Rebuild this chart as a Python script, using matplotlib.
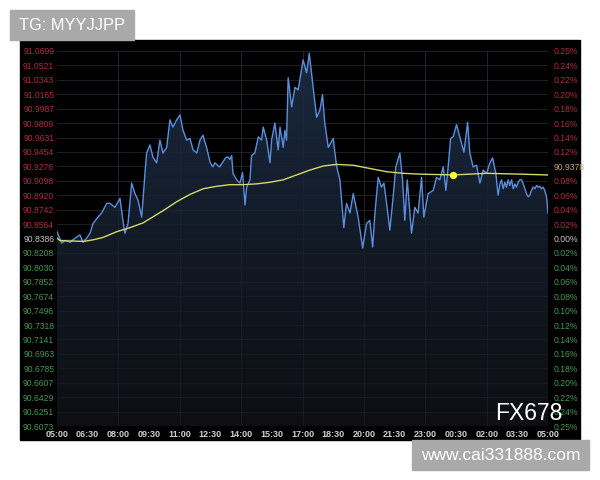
import numpy as np
import matplotlib.pyplot as plt
from matplotlib.patches import Rectangle
from matplotlib.colors import LinearSegmentedColormap

plt.rcParams['font.family'] = ['Liberation Sans', 'DejaVu Sans']

# 가격 (05:00 부터 경과 시간, 시간 단위)
hours = [0.00, 0.23, 0.39, 0.64, 0.88, 1.12, 1.27, 1.45, 1.61, 1.76, 2.00, 2.18, 2.43, 2.59,
         2.83, 3.08, 3.22, 3.32, 3.47, 3.65, 3.81, 3.96, 4.14, 4.30, 4.38, 4.54, 4.69, 4.87,
         5.03, 5.18, 5.36, 5.52, 5.67, 5.85, 6.01, 6.16, 6.34, 6.50, 6.65, 6.83, 6.99, 7.13,
         7.31, 7.48, 7.56, 7.62, 7.72, 7.80, 7.88, 7.96, 8.05, 8.11, 8.21, 8.29, 8.37, 8.45,
         8.54, 8.60, 8.78, 8.94, 9.07, 9.19, 9.27,
         9.43, 9.51, 9.67, 9.84, 10.00, 10.08, 10.25, 10.41, 10.49, 10.65, 10.81, 10.90, 11.06,
         11.14, 11.22, 11.30, 11.47, 11.63, 11.79, 12.03, 12.20, 12.33, 12.52, 12.69, 12.85,
         12.98, 13.09, 13.26, 13.50, 13.67, 13.83, 14.02, 14.15, 14.32, 14.48, 14.72, 14.94,
         15.13, 15.29, 15.43, 15.54, 15.70, 15.86, 15.98, 16.11, 16.27, 16.43, 16.56, 16.76,
         16.89, 17.00, 17.12, 17.33, 17.49, 17.65, 17.82, 17.93, 18.14, 18.39, 18.55, 18.71,
         18.88, 19.01, 19.12, 19.24, 19.36, 19.53, 19.69, 19.89, 20.07, 20.18, 20.34, 20.51,
         20.67, 20.83, 21.00, 21.16, 21.29, 21.45, 21.56, 21.65, 21.73, 21.81, 21.89, 21.97,
         22.05, 22.13, 22.22, 22.30, 22.38, 22.46, 22.54, 22.62, 22.71, 22.79, 22.87, 22.95,
         23.03, 23.11, 23.19, 23.27, 23.36, 23.44, 23.52, 23.60, 23.68, 23.76, 23.84, 23.93,
         24.00]
price = [90.847, 90.833, 90.836, 90.834, 90.839, 90.843, 90.834, 90.839, 90.845, 90.857, 90.865,
         90.870, 90.882, 90.882, 90.877, 90.888, 90.861, 90.845, 90.857, 90.907, 90.894, 90.886,
         90.865, 90.919, 90.944, 90.954, 90.939, 90.932, 90.960, 90.944, 90.951, 90.985, 90.976,
         90.985, 90.991, 90.972, 90.960, 90.962, 90.948, 90.944, 90.960, 90.966, 90.951,
         90.933, 90.929, 90.927, 90.932, 90.930, 90.928, 90.927, 90.931, 90.933, 90.937, 90.939,
         90.939, 90.936, 90.941, 90.919, 90.911, 90.907, 90.920, 90.880,
         90.902, 90.911, 90.941, 90.944, 90.964, 90.960, 90.976, 90.960, 90.932, 90.960, 90.981,
         90.948, 90.976, 90.951, 90.972, 90.960, 91.037, 91.001, 91.025, 91.022, 91.059, 91.043,
         91.067, 91.025, 90.988, 90.997, 91.016, 90.981, 90.951, 90.962, 90.927, 90.911, 90.852,
         90.882, 90.870, 90.894, 90.865, 90.827, 90.857, 90.861, 90.828, 90.870, 90.914, 90.902,
         90.907, 90.882, 90.849, 90.890, 90.927, 90.944, 90.911, 90.861, 90.911, 90.845, 90.877,
         90.870, 90.914, 90.865, 90.894, 90.898, 90.914, 90.911, 90.927, 90.898, 90.927, 90.962,
         90.964, 90.979, 90.964, 90.945, 90.982, 90.944, 90.927, 90.929, 90.907, 90.923, 90.919,
         90.932, 90.938, 90.919, 90.892, 90.906, 90.911, 90.900, 90.908, 90.902,
         90.911, 90.904, 90.911, 90.900, 90.906, 90.902, 90.908, 90.911, 90.911, 90.906, 90.900,
         90.894, 90.890, 90.892, 90.898, 90.902, 90.900, 90.904, 90.902, 90.903, 90.900, 90.902,
         90.898, 90.890, 90.870]

# 평균선
ma_hours = [0.00, 0.15, 1.29, 1.77, 2.26, 2.92, 3.57, 4.22, 4.54, 5.19, 5.85, 6.50, 7.15, 7.80,
            8.45, 9.10, 9.76, 10.41, 11.06, 11.71, 12.36, 13.01, 13.67, 14.48, 15.29, 16.11,
            16.92, 17.74, 19.36, 21.00, 22.62, 24.00]
ma_price = [90.839, 90.836, 90.835, 90.837, 90.840, 90.847, 90.852, 90.858, 90.863, 90.873,
            90.884, 90.893, 90.900, 90.903, 90.905, 90.905, 90.906, 90.908, 90.911, 90.917,
            90.923, 90.928, 90.930, 90.929, 90.925, 90.921, 90.919, 90.918, 90.917, 90.919,
            90.918, 90.917]
dot_hour = 19.36
dot_price = 90.917

# 축 라벨
y_levels = [91.0699, 91.0521, 91.0343, 91.0165, 90.9987, 90.9809, 90.9631, 90.9454, 90.9276,
            90.9098, 90.8920, 90.8742, 90.8564, 90.8386, 90.8208, 90.8030, 90.7852, 90.7674,
            90.7496, 90.7318, 90.7141, 90.6963, 90.6785, 90.6607, 90.6429, 90.6251, 90.6073]
pct_labels = ['0.25%', '0.24%', '0.22%', '0.20%', '0.18%', '0.16%', '0.14%', '0.12%', '90.9378',
              '0.08%', '0.06%', '0.04%', '0.02%', '0.00%', '0.02%', '0.04%', '0.06%', '0.08%',
              '0.10%', '0.12%', '0.14%', '0.16%', '0.18%', '0.20%', '0.22%', '0.24%', '0.25%']
x_labels = ['05:00', '06:30', '08:00', '09:30', '11:00', '12:30', '14:00', '15:30', '17:00',
            '18:30', '20:00', '21:30', '23:00', '00:30', '02:00', '03:30', '05:00']

red = '#b22a3e'
green = '#3f9a4e'
base = '#c8c8c8'
lab_colors = [red] * 13 + [base] + [green] * 13
ymin, ymax = y_levels[-1], y_levels[0]

fig = plt.figure(figsize=(6, 4.8), dpi=100)
fig.patch.set_facecolor('white')
fig.patches.append(Rectangle((20 / 600, 1 - 440 / 480), 560 / 600, 400 / 480,
                             transform=fig.transFigure, color='black', zorder=-5))

ax = fig.add_axes([57 / 600, 1 - 426 / 480, 491 / 600, 375 / 480])
ax.set_zorder(1)
ax.set_facecolor('black')
ax.set_xlim(0, 24)
ax.set_ylim(ymin, ymax)

# 격자
for v in y_levels:
    ax.axhline(v, color='#1c2026', lw=0.6, zorder=1)
for h in range(3, 24, 3):
    ax.axvline(h, color='#20252c', lw=0.6, zorder=1)

# 그라데이션 영역
poly = ax.fill_between(hours, price, ymin, facecolor='none', edgecolor='none')
grad = np.linspace(0, 1, 256).reshape(-1, 1)
cmap = LinearSegmentedColormap.from_list('g', ['#0d0f13', '#121a26', '#1a2940'])
img = ax.imshow(grad, extent=[0, 24, ymin, ymax], origin='lower', aspect='auto',
                cmap=cmap, zorder=2)
path = poly.get_paths()[0]
img.set_clip_path(path, transform=ax.transData)

for v in y_levels:
    ax.axhline(v, color='#1f2630', lw=0.5, zorder=3, alpha=0.6)
for h in range(3, 24, 3):
    ax.axvline(h, color='#232a34', lw=0.5, zorder=3, alpha=0.6)

ax.plot(hours, price, color='#5a8fe0', lw=1.0, zorder=5)
ax.plot(ma_hours, ma_price, color='#d6d86a', lw=1.0, zorder=6)
ax.scatter([dot_hour], [dot_price], s=18, color='#ffff30', zorder=7)

for s in ax.spines.values():
    s.set_visible(False)

ax.set_yticks(y_levels)
ax.set_yticklabels(['%.4f' % v for v in y_levels])
for t, c in zip(ax.get_yticklabels(), lab_colors):
    t.set_color(c)
ax.tick_params(axis='y', length=0, pad=2, labelsize=6.2)

ax.set_xticks(np.linspace(0, 24, len(x_labels)))
ax.set_xticklabels(x_labels)
ax.tick_params(axis='x', length=0, pad=3, labelsize=6.5, colors='#cfcfcf')
for t in ax.get_xticklabels():
    t.set_fontweight('bold')

ax2 = ax.twinx()
ax2.set_zorder(2)
ax2.patch.set_visible(False)
ax2.set_ylim(ymin, ymax)
ax2.set_yticks(y_levels)
ax2.set_yticklabels(pct_labels)
for t, c in zip(ax2.get_yticklabels(), lab_colors):
    t.set_color(c)
ax2.get_yticklabels()[8].set_color('#c9a86a')
ax2.tick_params(axis='y', length=0, pad=4, labelsize=6.2)
for s in ax2.spines.values():
    s.set_visible(False)

fig.text(529 / 600, 1 - 414 / 480, 'FX678', color='white', fontsize=16.5,
         ha='center', va='center', zorder=10)

# 워터마크
fig.patches.append(Rectangle((10 / 600, 1 - 40 / 480), 124 / 600, 30 / 480,
                             transform=fig.transFigure, color='#a9a9a9', zorder=5))
fig.text(72 / 600, 1 - 25 / 480, 'TG: MYYJJPP', color='white', fontsize=11.8,
         ha='center', va='center', zorder=6)
fig.patches.append(Rectangle((412 / 600, 1 - 470 / 480), 177 / 600, 30 / 480,
                             transform=fig.transFigure, color='#a9a9a9', zorder=5))
fig.text(501 / 600, 1 - 455 / 480, 'www.cai331888.com', color='white', fontsize=12.5,
         ha='center', va='center', zorder=6)

fig.savefig('out.png', dpi=100)
